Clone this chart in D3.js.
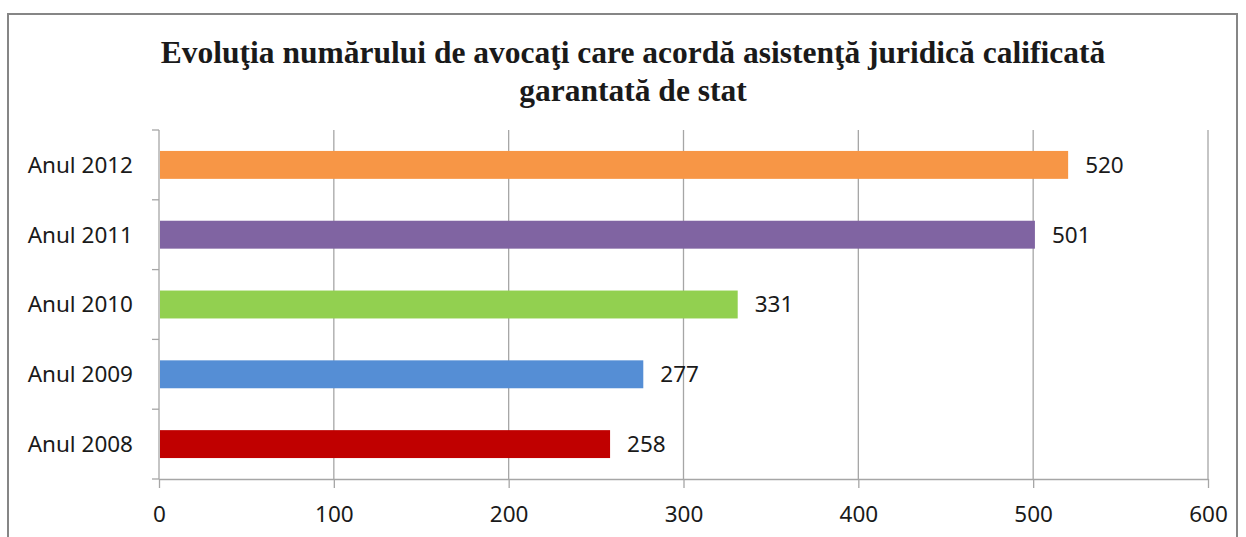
<!DOCTYPE html>
<html>
<head>
<meta charset="utf-8">
<script src="https://cdn.jsdelivr.net/npm/d3@7"></script>
<style>
  body { margin: 0; background: #fff; }
  #chart text { fill: #1a1a1a; }
</style>
</head>
<body>
<div id="chart"></div>
<script>
// chart data
var categories = ['Anul 2012', 'Anul 2011', 'Anul 2010', 'Anul 2009', 'Anul 2008'];
var values = [520, 501, 331, 277, 258];
var barColors = ['#f79646', '#8064a2', '#92d050', '#558ed5', '#c00000'];
var xTicks = [0, 100, 200, 300, 400, 500, 600];
var titleLines = ['Evoluţia numărului de avocaţi care acordă asistenţă juridică calificată', 'garantată de stat'];

var W = 1246, H = 537;
var plot = { left: 159, right: 1208, top: 130, bottom: 479 };
var labelFont = '"Noto Sans", sans-serif';

var svg = d3.select('#chart').append('svg')
  .attr('width', W)
  .attr('height', H);

// outer frame
svg.append('rect')
  .attr('x', 8).attr('y', 14)
  .attr('width', 1229).attr('height', 540)
  .attr('fill', '#fff')
  .attr('stroke', '#868686')
  .attr('stroke-width', 2);

// title
svg.append('g')
  .selectAll('text')
  .data(titleLines)
  .enter()
  .append('text')
  .attr('x', 633)
  .attr('y', (d, i) => 63 + i * 38)
  .attr('text-anchor', 'middle')
  .style('font-family', '"Liberation Serif", "Times New Roman", serif')
  .style('font-weight', 'bold')
  .style('font-size', '31.5px')
  .text(d => d);

var x = d3.scaleLinear().domain([0, 600]).range([plot.left, plot.right]);
var y = d3.scaleBand().domain(categories).range([plot.top, plot.bottom]).paddingInner(0.6).paddingOuter(0.3);
var yOuter = d3.scaleBand().domain(categories).range([plot.top, plot.bottom]);

// vertical gridlines
svg.append('g')
  .selectAll('line')
  .data(xTicks.slice(1))
  .enter()
  .append('line')
  .attr('x1', d => x(d)).attr('x2', d => x(d))
  .attr('y1', plot.top).attr('y2', plot.bottom)
  .attr('stroke', '#a6a6a6')
  .attr('stroke-width', 1.3);

// x axis
var xAxis = svg.append('g')
  .attr('transform', 'translate(0,' + plot.bottom + ')')
  .call(d3.axisBottom(x).tickValues(xTicks).tickSize(9).tickPadding(18).tickSizeOuter(0));
xAxis.select('.domain').attr('stroke', '#a6a6a6').attr('stroke-width', 1.3);
xAxis.selectAll('.tick line').attr('stroke', '#a6a6a6').attr('stroke-width', 1.3);
xAxis.selectAll('.tick text')
  .style('font-family', labelFont)
  .style('font-size', '22.5px')
  .attr('fill', '#1a1a1a');

// y axis: tick marks sit on band boundaries
var yAxisG = svg.append('g');
yAxisG.append('line')
  .attr('x1', plot.left).attr('x2', plot.left)
  .attr('y1', plot.top).attr('y2', plot.bottom)
  .attr('stroke', '#a6a6a6').attr('stroke-width', 1.3);
var bounds = categories.map(c => yOuter(c)).concat([plot.bottom]);
yAxisG.selectAll('line.tk')
  .data(bounds)
  .enter()
  .append('line')
  .attr('class', 'tk')
  .attr('x1', plot.left - 7).attr('x2', plot.left)
  .attr('y1', d => d).attr('y2', d => d)
  .attr('stroke', '#a6a6a6').attr('stroke-width', 1.3);
yAxisG.selectAll('text')
  .data(categories)
  .enter()
  .append('text')
  .attr('x', 133)
  .attr('y', d => yOuter(d) + yOuter.bandwidth() / 2)
  .attr('dy', '0.35em')
  .attr('text-anchor', 'end')
  .style('font-family', labelFont)
  .style('font-size', '22.5px')
  .text(d => d);

// bars
svg.append('g')
  .selectAll('rect')
  .data(values)
  .enter()
  .append('rect')
  .attr('x', x(0) + 1)
  .attr('y', (d, i) => y(categories[i]))
  .attr('width', d => x(d) - x(0) - 1)
  .attr('height', y.bandwidth())
  .attr('fill', (d, i) => barColors[i]);

// value labels
svg.append('g')
  .selectAll('text')
  .data(values)
  .enter()
  .append('text')
  .attr('x', d => x(d) + 17)
  .attr('y', (d, i) => y(categories[i]) + y.bandwidth() / 2)
  .attr('dy', '0.35em')
  .style('font-family', labelFont)
  .style('font-size', '22.5px')
  .text(d => d);
</script>
</body>
</html>
